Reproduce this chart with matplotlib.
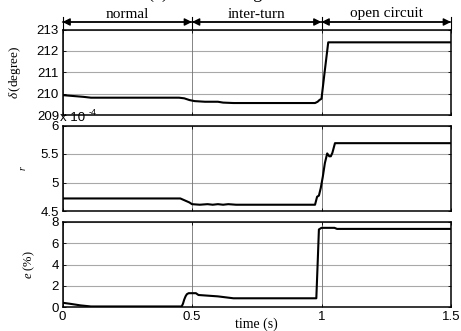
import numpy as np
import matplotlib
matplotlib.use('Agg')
import matplotlib.pyplot as plt

# time axis and the three signals
tDelta = [0, 0.03, 0.08, 0.11, 0.45, 0.47, 0.49, 0.51, 0.55, 0.6, 0.62, 0.66, 0.975, 0.985, 0.992, 1.0, 1.012, 1.026, 1.5]
delta = [209.93, 209.9, 209.85, 209.81, 209.81, 209.78, 209.70, 209.65, 209.62, 209.62, 209.58, 209.56, 209.56, 209.62, 209.7, 209.76, 211.0, 212.4, 212.4]

tR = [0, 0.455, 0.475, 0.49, 0.5, 0.53, 0.56, 0.58, 0.6, 0.62, 0.64, 0.67, 0.975, 0.983, 0.99, 0.997, 1.005, 1.013, 1.022, 1.03, 1.036, 1.042, 1.052, 1.5]
r = [4.72, 4.72, 4.68, 4.65, 4.62, 4.61, 4.62, 4.61, 4.62, 4.61, 4.62, 4.61, 4.61, 4.75, 4.77, 4.90, 5.10, 5.34, 5.51, 5.46, 5.46, 5.52, 5.69, 5.69]

tE = [0, 0.03, 0.07, 0.11, 0.46, 0.465, 0.47, 0.475, 0.48, 0.487, 0.515, 0.525, 0.6, 0.66, 0.98, 0.985, 0.99, 1.0, 1.05, 1.06, 1.5]
e = [0.4, 0.3, 0.15, 0.05, 0.05, 0.3, 0.7, 1.0, 1.2, 1.3, 1.3, 1.13, 1.0, 0.82, 0.82, 4.0, 7.3, 7.45, 7.45, 7.35, 7.35]

segments = ['normal', 'inter-turn', 'open circuit']
segEdges = [0, 0.5, 1.0, 1.5]
xTicks = [0, 0.5, 1, 1.5]
xTickLabels = ['0', '0.5', '1', '1.5']

plt.rcParams['font.family'] = ['Liberation Sans', 'DejaVu Sans']
plt.rcParams['mathtext.fontset'] = 'custom'
plt.rcParams['mathtext.rm'] = 'Liberation Serif'
plt.rcParams['mathtext.it'] = 'Liberation Serif:italic'

W, H = 461, 331
fig = plt.figure(figsize=(W/100, H/100), dpi=100)

def box(x0, y0, x1, y1):
	# pixel box (top-left origin) -> figure fraction
	return [x0/W, 1 - y1/H, (x1 - x0)/W, (y1 - y0)/H]

serif = 'Liberation Serif'
left, right = 62.5, 451

def styleAxis(ax, ylim, yticks, ylabel, labelX, labelSize):
	ax.set_xlim(0, 1.5)
	ax.set_ylim(*ylim)
	ax.set_xticks(xTicks)
	ax.set_yticks(yticks)
	ax.tick_params(direction='in', length=2.5, width=0.6, top=True, right=True, labelsize=9.5, pad=2.5)
	for s in ax.spines.values():
		s.set_linewidth(1.1)
	for yv in yticks:
		ax.axhline(yv, color='#a8a8a8', lw=0.8, zorder=0)
	for xv in xTicks:
		ax.axvline(xv, color='#707070', lw=0.6, zorder=0)
	ax.set_ylabel(ylabel, fontsize=labelSize, family=serif)
	ax.yaxis.set_label_coords(labelX, 0.5)

ax1 = fig.add_axes(box(left, 29.5, right, 115))
ax2 = fig.add_axes(box(left, 125.5, right, 211))
ax3 = fig.add_axes(box(left, 222, right, 307))

ax1.plot(tDelta, delta, color='k', lw=1.5)
styleAxis(ax1, (209, 213), [209, 210, 211, 212, 213], r'$\delta\,$(degree)', -0.102, 9.5)
ax1.set_xticklabels([])

ax2.plot(tR, r, color='k', lw=1.5)
styleAxis(ax2, (4.5, 6), [4.5, 5, 5.5, 6], r'$r$', -0.09, 7)
ax2.set_yticklabels(['4.5', '5', '5.5', '6'])
ax2.set_xticklabels([])

ax3.plot(tE, e, color='k', lw=1.5)
styleAxis(ax3, (0, 8), [0, 2, 4, 6, 8], r'$e$ (%)', -0.066, 9)
ax3.set_xticklabels(xTickLabels)
ax3.tick_params(axis='x', pad=3)
ax3.set_xlabel('time (s)', family=serif, fontsize=10, labelpad=-4)

# x 10^-4 multiplier of the r panel
fig.text(60/W, 1 - 118/H, 'x 10', fontsize=9.5, ha='left', va='center')
fig.text(89/W, 1 - 112/H, '-4', fontsize=6.5, ha='left', va='center')

# region annotations above the top panel
yArrow = 1 - 22/H
for i, name in enumerate(segments):
	xa = left + (right - left) * segEdges[i] / 1.5
	xb = left + (right - left) * segEdges[i + 1] / 1.5
	fig.patches.append(matplotlib.patches.FancyArrowPatch((xa/W, yArrow), (xb/W, yArrow),
		transform=fig.transFigure, arrowstyle='-|>', mutation_scale=11, color='k', lw=1.0,
		shrinkA=0, shrinkB=0))
	fig.patches.append(matplotlib.patches.FancyArrowPatch((xb/W, yArrow), (xa/W, yArrow),
		transform=fig.transFigure, arrowstyle='-|>', mutation_scale=11, color='k', lw=1.0,
		shrinkA=0, shrinkB=0))
	fig.text((xa + xb)/2/W, 1 - 14/H, name, family=serif, fontsize=11, ha='center', va='center')
for xe in segEdges:
	xp = left + (right - left) * xe / 1.5
	fig.add_artist(plt.Line2D([xp/W, xp/W], [1 - 17/H, 1 - 29/H], color='k', lw=0.8))

# title cut off by the top edge, only the lower edge of the glyphs shows
fig.text(220/W, 1 + 2/H, '(c) Detected signals', family=serif, fontsize=13, ha='center', va='baseline')

plt.savefig('out.png', dpi=100)
